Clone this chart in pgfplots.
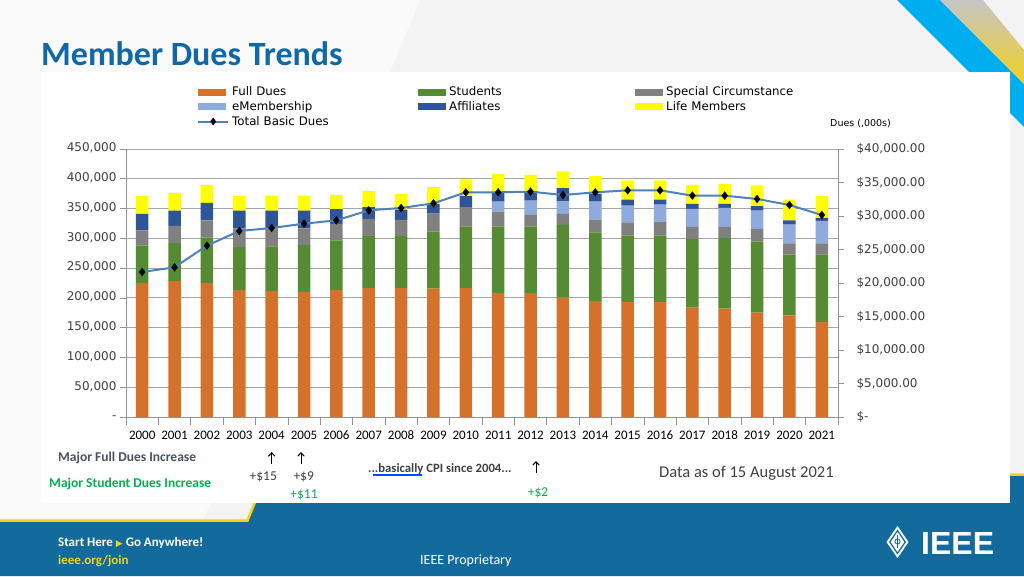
\documentclass[border=0pt]{standalone}
\usepackage{fontspec}
\setmainfont{Carlito}
\newfontfamily\dejavu{DejaVu Sans}
\newfontfamily\libsans{Liberation Sans}
\usepackage{pgfplots}
\usepackage{pgfplotstable}
\pgfplotsset{compat=1.18}
\usetikzlibrary{arrows.meta}

\definecolor{fulldues}{RGB}{213,113,43}
\definecolor{students}{RGB}{86,138,51}
\definecolor{specialc}{RGB}{128,128,128}
\definecolor{emember}{RGB}{143,170,220}
\definecolor{affil}{RGB}{47,85,151}
\definecolor{lifem}{RGB}{255,255,0}
\definecolor{totline}{RGB}{79,129,189}
\definecolor{titleblue}{RGB}{16,104,168}
\definecolor{gridgray}{RGB}{166,166,166}
\definecolor{bannerblue}{RGB}{18,107,156}
\definecolor{ieeeyellow}{RGB}{242,208,30}
\definecolor{cyanband}{RGB}{0,174,239}
\definecolor{annogreen}{RGB}{0,176,80}
\definecolor{annogray}{RGB}{72,82,96}
\definecolor{textgray}{RGB}{64,64,64}
\definecolor{bgslide}{RGB}{243,243,243}

\pgfplotstableread{
x year fd st sc em af lm tot
0 2000 224700 62900 25900 0 27500 29800 21642
1 2001 228100 64000 28700 0 25800 29800 22338
2 2002 224700 77000 28600 0 29300 30300 25572
3 2003 213500 71900 31500 0 29700 24200 27761
4 2004 211200 75300 30400 0 29700 24200 28209
5 2005 209600 79200 28100 0 29700 24200 28856
6 2006 213500 83100 27600 0 24700 24100 29353
7 2007 216900 87000 28700 0 19600 27000 30846
8 2008 216900 87000 27000 0 17400 26400 31194
9 2009 215700 95500 30400 0 16300 28100 31891
10 2010 216900 103300 32000 0 18600 28100 33532
11 2011 207900 111800 25200 16900 15700 30900 33532
12 2012 207900 112300 19100 24200 15700 27500 33632
13 2013 200600 121900 18500 21400 21900 28100 33134
14 2014 194400 115700 21400 30300 12900 29800 33532
15 2015 193300 111200 22500 28100 10100 32000 33831
16 2016 193300 111200 23600 28600 8500 32000 33831
17 2017 183700 115200 20200 30300 8500 32000 33035
18 2018 182000 118600 19600 30900 6800 33700 33035
19 2019 175300 119600 20800 30900 7300 34900 32537
20 2020 170800 101700 19100 31400 7300 34900 31642
21 2021 159600 113400 18600 37600 5100 36500 30149
}\duesdata

\pgfplotsset{barleg/.style={legend image code/.code={\fill[##1] (0pt,-3.5pt) rectangle (28pt,3.5pt);}}}

\begin{document}
\begin{tikzpicture}[x=1pt,y=1pt]
\useasboundingbox (0,0) rectangle (1024,576);
% slide background
\fill[bgslide] (0,0) rectangle (1024,576);
\fill[white!55!bgslide] (0,576) -- (420,576) -- (180,0) -- (0,0) -- cycle;
% decorative stripes top right
\fill[cyanband] (897,576) -- (940,576) -- (1024,492) -- (1024,449) -- cycle;
\shade[top color=gray!45, bottom color=ieeeyellow] (940,576) -- (983,576) -- (1024,526) -- (1024,492) -- cycle;
% bottom banner
\fill[bannerblue] (0,0) -- (0,54) -- (247,54) -- (266,100) -- (1024,100) -- (1024,0) -- cycle;
\draw[ieeeyellow, line width=2.5pt] (0,55.5) -- (247.5,55.5) -- (266.5,101.5) -- (1024,101.5);
% chart area
\fill[white] (42,73) rectangle (1010,504);

% title
\node[anchor=base west, inner sep=0, text=titleblue, font=\bfseries\fontsize{34}{40}\selectfont] at (41,510.5) {Member Dues Trends};

\begin{axis}[
  at={(126pt,159pt)}, anchor=south west, scale only axis,
  width=712pt, height=268pt,
  xmin=-0.5, xmax=21.5, ymin=0, ymax=450000,
  ybar stacked, bar width=12.5pt,
  axis x line*=bottom, axis y line*=left,
  axis line style={draw=gray!85},
  tick align=outside,
  major tick length=6pt, minor tick length=8pt,
  tick style={draw=gray!85, line width=0.6pt},
  xtick={0,...,21},
  xticklabels={2000,2001,2002,2003,2004,2005,2006,2007,2008,2009,2010,2011,2012,2013,2014,2015,2016,2017,2018,2019,2020,2021},
  major x tick style={draw=none},
  minor xtick={-0.5,0.5,...,21.5},
  typeset ticklabels with strut,
  xticklabel style={font=\fontsize{13}{15}\selectfont, text=black, yshift=-2pt},
  ytick={0,50000,...,450000},
  yticklabels={-,{50,000},{100,000},{150,000},{200,000},{250,000},{300,000},{350,000},{400,000},{450,000}},
  yticklabel style={font=\dejavu\fontsize{12}{14}\selectfont, text=textgray},
  scaled y ticks=false,
  ymajorgrids, grid style={draw=gridgray, line width=0.8pt},
  legend columns=3,
  legend cell align=left,
  legend style={at={(0.0997,1.236)}, anchor=north west, draw=none, fill=none,
    inner sep=0pt, row sep=2.2pt,
    font=\dejavu\fontsize{11.8}{13}\selectfont,
    nodes={text width=183pt, inner xsep=3pt, inner ysep=1pt}},
]
\addplot[fill=fulldues, draw=none, barleg] table[x=x, y=fd]{\duesdata};
\addlegendentry{Full Dues}
\addplot[fill=students, draw=none, barleg] table[x=x, y=st]{\duesdata};
\addlegendentry{Students}
\addplot[fill=specialc, draw=none, barleg] table[x=x, y=sc]{\duesdata};
\addlegendentry{Special Circumstance}
\addplot[fill=emember, draw=none, barleg] table[x=x, y=em]{\duesdata};
\addlegendentry{eMembership}
\addplot[fill=affil, draw=none, barleg] table[x=x, y=af]{\duesdata};
\addlegendentry{Affiliates}
\addplot[fill=lifem, draw=none, barleg] table[x=x, y=lm]{\duesdata};
\addlegendentry{Life Members}
\addlegendimage{legend image code/.code={\path[draw=totline, color=totline, line width=2pt] (0pt,0pt) -- (30pt,0pt); \path[fill=black] (15pt,3.5pt) -- (17.6pt,0pt) -- (15pt,-3.5pt) -- (12.4pt,0pt) -- cycle;}}
\addlegendentry{Total Basic Dues}
\end{axis}

\begin{axis}[
  at={(126pt,159pt)}, anchor=south west, scale only axis,
  width=712pt, height=268pt,
  xmin=-0.5, xmax=21.5, ymin=0, ymax=40000,
  axis x line=none, axis y line*=right,
  axis line style={draw=gray!85},
  tick align=outside, major tick length=6pt,
  tick style={draw=gray!85, line width=0.6pt},
  ytick={0,5000,...,40000},
  yticklabels={\$-,{\$5,000.00},{\$10,000.00},{\$15,000.00},{\$20,000.00},{\$25,000.00},{\$30,000.00},{\$35,000.00},{\$40,000.00}},
  yticklabel style={font=\dejavu\fontsize{12}{14}\selectfont, text=textgray, anchor=west, xshift=9pt},
  scaled y ticks=false,
]
\addplot[totline, line width=2pt, mark=diamond*, mark size=4pt, mark options={draw=black, fill=black, line width=0.3pt}] table[x=x, y=tot]{\duesdata};
\end{axis}

% units note
\node[anchor=west, inner sep=0, font=\dejavu\fontsize{9.5}{11}\selectfont, text=black] at (830,452.5) {Dues (,000s)};

% annotations
\node[anchor=west, inner sep=0, font=\bfseries\fontsize{13.5}{15}\selectfont, text=annogray] at (58,118.5) {Major Full Dues Increase};
\node[anchor=west, inner sep=0, font=\bfseries\fontsize{13.5}{15}\selectfont, text=annogreen] at (49,92.5) {Major Student Dues Increase};
\draw[line width=1pt, -{Straight Barb[length=3.5pt,width=6.5pt]}] (271.7,112) -- (271.7,124);
\draw[line width=1pt, -{Straight Barb[length=3.5pt,width=6.5pt]}] (301,112) -- (301,124);
\draw[line width=1pt, -{Straight Barb[length=3.5pt,width=6.5pt]}] (536,103) -- (536,115);
\node[inner sep=0, font=\fontsize{13.5}{15}\selectfont, text=textgray] at (263.3,98.7) {+\$15};
\node[inner sep=0, font=\fontsize{13.5}{15}\selectfont, text=textgray] at (303.7,99) {+\$9};
\node[inner sep=0, font=\fontsize{13.5}{15}\selectfont, text=annogreen] at (304,81) {+\$11};
\node[inner sep=0, font=\fontsize{13.5}{15}\selectfont, text=annogreen] at (538,83.3) {+\$2};
\node[anchor=west, inner sep=0, font=\bfseries\fontsize{12.7}{15}\selectfont, text=textgray] at (368,107) {...basically CPI since 2004...};
\draw[blue!70!cyan, line width=0.5pt] (372.7,102) -- (421.7,102);
\draw[blue!70!cyan, line width=0.5pt] (372.7,100.3) -- (421.7,100.3);
\node[anchor=west, inner sep=0, font=\fontsize{16.5}{19}\selectfont, text=textgray] at (659,102.5) {Data as of 15 August 2021};

% banner texts
\node[anchor=base west, inner sep=0, font=\bfseries\fontsize{13}{15}\selectfont, text=white] at (58,30) {Start Here {\dejavu\fontsize{9}{10}\selectfont\color{ieeeyellow}▶} Go Anywhere!};
\node[anchor=base west, inner sep=0, font=\bfseries\fontsize{13}{15}\selectfont, text=ieeeyellow] at (58,12) {ieee.org/join};
\node[anchor=base west, inner sep=0, font=\fontsize{14}{16}\selectfont, text=white] at (420,11.5) {IEEE Proprietary};
% IEEE logo
\fill[white] (897.5,50) -- (908.5,34) -- (897.5,18) -- (886.5,34) -- cycle;
\fill[bannerblue] (897.5,46.5) -- (906,34) -- (897.5,21.5) -- (889,34) -- cycle;
\fill[white] (897.5,44) -- (904.3,34) -- (897.5,24) -- (890.7,34) -- cycle;
\draw[bannerblue, line width=0.8pt] (897.5,28) -- (897.5,41);
\draw[bannerblue, line width=0.8pt] (897.5,34.5) circle (2.6);
\node[anchor=base west, inner sep=0, font=\libsans\bfseries\fontsize{32}{36}\selectfont, text=white] at (921,22) {IEEE};
\end{tikzpicture}
\end{document}
